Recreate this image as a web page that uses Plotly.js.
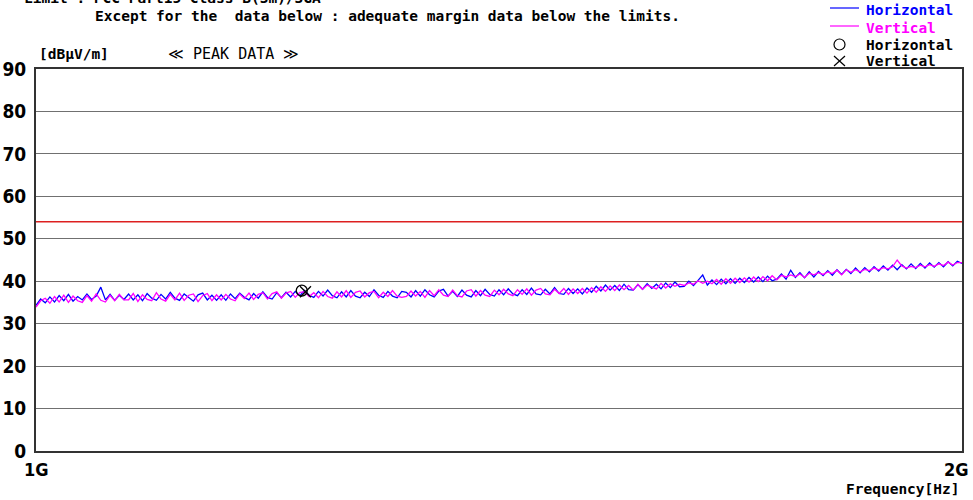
<!DOCTYPE html>
<html><head><meta charset="utf-8">
<script src="https://cdn.plot.ly/plotly-3.0.1.min.js"></script>
<style>html,body{margin:0;padding:0;background:#fff}#chart{width:973px;height:500px}</style>
</head><body><div id="chart"></div>
<script>
// Frequency sweep points [MHz]
const freqMHz = [
1000,1005,1010,1015,1020,1025,1030,1035,1040,1045,1050,1055,1060,1065,1070,1075,1080,1085,1090,1095,
1100,1105,1110,1115,1120,1125,1130,1135,1140,1145,1150,1155,1160,1165,1170,1175,1180,1185,1190,1195,
1200,1205,1210,1215,1220,1225,1230,1235,1240,1245,1250,1255,1260,1265,1270,1275,1280,1285,1290,1295,
1300,1305,1310,1315,1320,1325,1330,1335,1340,1345,1350,1355,1360,1365,1370,1375,1380,1385,1390,1395,
1400,1405,1410,1415,1420,1425,1430,1435,1440,1445,1450,1455,1460,1465,1470,1475,1480,1485,1490,1495,
1500,1505,1510,1515,1520,1525,1530,1535,1540,1545,1550,1555,1560,1565,1570,1575,1580,1585,1590,1595,
1600,1605,1610,1615,1620,1625,1630,1635,1640,1645,1650,1655,1660,1665,1670,1675,1680,1685,1690,1695,
1700,1705,1710,1715,1720,1725,1730,1735,1740,1745,1750,1755,1760,1765,1770,1775,1780,1785,1790,1795,
1800,1805,1810,1815,1820,1825,1830,1835,1840,1845,1850,1855,1860,1865,1870,1875,1880,1885,1890,1895,
1900,1905,1910,1915,1920,1925,1930,1935,1940,1945,1950,1955,1960,1965,1970,1975,1980,1985,1990,1995,
2000];
// Horizontal polarization level [dBuV/m]
const horizontal = [
34.3,35.8,34.9,36.3,35.1,36.6,35.4,36.9,35.3,36.4,35.6,37.0,35.7,36.5,38.6,35.6,36.9,35.5,36.7,35.7,
37.0,35.6,36.8,35.4,37.1,36.0,35.5,36.9,35.8,37.4,36.0,35.5,37.0,36.1,35.3,36.8,37.2,35.6,36.7,35.5,
36.8,35.5,37.0,35.9,37.2,36.2,35.6,37.1,36.0,37.5,36.2,35.8,37.3,36.1,37.4,36.3,37.6,36.6,37.8,36.7,
36.2,37.6,36.5,37.9,36.6,36.1,37.5,36.3,37.8,36.5,36.1,37.4,36.4,38.0,36.7,36.2,37.6,36.5,36.1,37.6,
37.4,36.3,37.8,36.5,38.0,36.8,36.3,37.7,38.1,36.5,37.6,36.4,37.9,36.7,36.3,37.8,36.6,38.1,36.9,36.5,
38.0,36.8,38.2,37.0,36.6,38.0,36.9,38.4,37.0,36.8,38.1,37.0,38.5,37.1,36.9,38.3,37.1,38.2,37.0,38.4,
37.4,38.8,37.7,39.1,37.9,39.0,37.8,39.3,38.0,37.9,39.2,38.1,39.4,38.3,39.3,38.2,39.6,38.5,39.8,38.7,
38.8,40.0,39.0,40.2,41.5,39.1,40.3,39.2,40.5,39.4,40.6,39.5,40.7,39.7,40.9,39.8,41.0,39.9,41.2,40.1,
40.5,41.7,40.5,42.6,40.9,42.0,40.8,42.2,41.0,42.3,41.3,42.5,41.4,42.7,41.6,42.8,41.8,43.1,42.0,43.2,
42.2,43.4,42.4,43.6,42.6,43.8,42.7,43.9,42.9,44.1,43.0,44.2,43.1,44.3,43.3,44.4,43.4,44.6,43.6,44.7,
44.2];
// Vertical polarization level [dBuV/m]
const vertical = [
33.9,35.4,36.0,34.8,36.4,35.1,36.7,35.0,36.5,35.4,35.0,36.6,35.3,37.0,35.5,35.1,36.7,35.4,36.9,35.6,
35.6,37.1,35.2,36.8,35.7,35.4,37.3,35.8,35.3,36.9,35.6,37.2,35.5,36.7,37.0,35.2,36.6,37.1,35.4,36.8,
35.6,36.9,35.8,35.4,37.0,35.9,37.2,35.7,36.9,37.3,35.8,37.1,37.5,36.0,37.2,37.6,36.2,37.4,37.5,36.4,
37.3,36.1,37.6,36.4,36.0,37.5,36.3,37.8,36.2,37.4,37.7,36.3,37.3,37.6,36.1,37.4,36.4,37.8,36.5,36.2,
36.4,37.7,36.5,37.6,36.2,37.8,36.6,38.0,36.7,36.4,37.9,36.6,36.3,37.7,38.0,36.5,37.8,36.7,36.4,37.9,
36.8,38.1,37.0,36.6,38.0,36.9,38.2,36.7,37.9,38.3,37.0,36.8,38.1,37.1,38.3,36.9,38.2,37.1,38.3,37.2,
38.5,37.4,38.7,37.6,38.9,37.8,39.1,38.0,39.0,37.9,39.3,38.1,39.1,38.6,38.2,39.5,38.4,39.4,38.8,39.3,
39.0,39.6,39.3,40.1,39.5,40.0,39.4,40.4,39.3,40.6,39.5,40.7,39.7,40.8,39.8,41.0,39.9,41.1,40.1,41.3,
40.3,41.4,41.0,41.5,41.1,41.7,40.9,41.9,41.5,42.0,41.6,42.2,41.8,42.6,41.5,42.7,42.1,42.7,42.2,42.8,
42.5,43.1,42.7,43.2,42.9,43.4,45.0,43.6,43.1,43.5,43.2,43.8,43.4,43.9,43.5,44.1,43.7,44.5,43.8,44.4,
44.4];
// Limit line
const limitFreq = [1000, 2000];
const limitLevel = [54, 54];
// Peak markers
const peakHFreq = [1287];
const peakHLevel = [37.8];
const peakVFreq = [1291];
const peakVLevel = [37.5];
// Axis ticks
const yTicks = [0,10,20,30,40,50,60,70,80,90];
const xTickVals = [1000, 2000];
const xTickText = ["1G", "2G"];

const L = 36, R = 962, T = 69, B = 451;
const px = x => (x - L) / (R - L);
const py = y => (B - y) / (B - T);
const mono = "DejaVu Sans Mono, Liberation Mono, monospace";
const cond = "DejaVu Sans Condensed, Liberation Sans Narrow, Liberation Sans, sans-serif";

const traces = [
  {x: limitFreq, y: limitLevel, mode: 'lines', line: {color: '#dd2020', width: 1.5}, hoverinfo: 'skip'},
  {x: freqMHz, y: horizontal, mode: 'lines', line: {color: '#0000ff', width: 1.3}},
  {x: freqMHz, y: vertical, mode: 'lines', line: {color: '#ff00ff', width: 1.3}},
  {x: peakHFreq, y: peakHLevel, mode: 'markers', marker: {symbol: 'circle-open', size: 11, color: '#000', line: {width: 1.3, color: '#000'}}},
  {x: peakVFreq, y: peakVLevel, mode: 'markers', marker: {symbol: 'x-thin-open', size: 11, color: '#000', line: {width: 1.3, color: '#000'}}}
];

function ann(text, x, y, opts) {
  return Object.assign({text: text, xref: 'paper', yref: 'paper', x: px(x), y: py(y), showarrow: false,
    xanchor: 'left', yanchor: 'middle', font: {family: mono, size: 14.5, color: '#000', weight: 'bold'}}, opts || {});
}
const tickFont = {family: cond, size: 18, color: '#000', weight: 'bold'};

const annotations = [
  ann('Limit : FCC Part15 Class B(3m)/3GA', 22, -2),
  ann('Except for the  data below : adequate margin data below the limits.', 93, 16),
  ann('[dBμV/m]', 37, 54),
  ann('≪ PEAK DATA ≫', 166, 54, {font: {family: mono, size: 15, color: '#000', weight: 'normal'}}),
  ann('Horizontal', 864, 10, {font: {family: mono, size: 14.5, color: '#0000ff', weight: 'bold'}}),
  ann('Vertical', 864, 28, {font: {family: mono, size: 14.5, color: '#ff00ff', weight: 'bold'}}),
  ann('Horizontal', 864, 45),
  ann('Vertical', 864, 61),
  ann('Frequency[Hz]', 962, 489, {xanchor: 'right'}),
  {text: xTickText[0], xref: 'x', yref: 'paper', x: xTickVals[0], y: py(469), xanchor: 'center', yanchor: 'middle',
   showarrow: false, font: tickFont},
  {text: xTickText[1], xref: 'x', yref: 'paper', x: xTickVals[1], xshift: 9, y: py(469), xanchor: 'right', yanchor: 'middle',
   showarrow: false, font: tickFont}
];

const shapes = [
  {type: 'line', xref: 'paper', yref: 'paper', x0: px(830), x1: px(859), y0: py(8), y1: py(8), line: {color: '#0000ff', width: 1.2}},
  {type: 'line', xref: 'paper', yref: 'paper', x0: px(830), x1: px(859), y0: py(26), y1: py(26), line: {color: '#ff00ff', width: 1.2}},
  {type: 'circle', xref: 'paper', yref: 'paper', x0: px(834), x1: px(845), y0: py(39), y1: py(50), line: {color: '#000', width: 1.2}},
  {type: 'line', xref: 'paper', yref: 'paper', x0: px(834), x1: px(845), y0: py(56), y1: py(66), line: {color: '#000', width: 1.2}},
  {type: 'line', xref: 'paper', yref: 'paper', x0: px(834), x1: px(845), y0: py(66), y1: py(56), line: {color: '#000', width: 1.2}}
];

const layout = {
  width: 973, height: 500,
  margin: {l: L, r: 973 - R, t: T, b: 500 - B, pad: 0},
  paper_bgcolor: '#fff', plot_bgcolor: '#fff',
  showlegend: false,
  xaxis: {range: [1000, 2000], tickmode: 'array', tickvals: xTickVals, showticklabels: false,
    showgrid: false, zeroline: false, showline: true, mirror: true, linecolor: '#333', linewidth: 2, ticks: ''},
  yaxis: {range: [0, 90], tickmode: 'array', tickvals: yTicks,
    showgrid: true, gridcolor: '#707070', gridwidth: 1, zeroline: false, showline: true, mirror: true,
    linecolor: '#333', linewidth: 2, ticks: '', ticklabelstandoff: 4,
    tickfont: {family: cond, size: 19, color: '#000', weight: 'bold'}},
  annotations: annotations,
  shapes: shapes
};

Plotly.newPlot('chart', traces, layout, {staticPlot: true, displayModeBar: false});
</script></body></html>
